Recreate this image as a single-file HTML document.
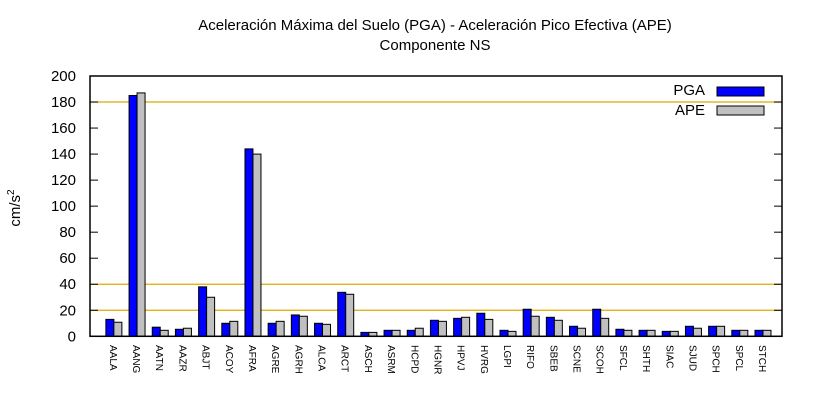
<!DOCTYPE html>
<html><head><meta charset="utf-8"><style>
body{margin:0;background:#fff;}
text{font-family:"Liberation Sans",sans-serif;fill:#000;}
</style></head><body>
<svg id="c" width="820" height="400" xmlns="http://www.w3.org/2000/svg">
<rect width="820" height="400" fill="#fff"/>
<text x="435" y="30" font-size="15" text-anchor="middle">Aceleración Máxima del Suelo (PGA) -  Aceleración Pico Efectiva (APE)</text>
<text x="435" y="50" font-size="15" text-anchor="middle">Componente NS</text>
<text transform="translate(20,208) rotate(-90)" font-size="15" text-anchor="middle">cm/s<tspan dy="-6" font-size="10">2</tspan></text>
<g id="grid"></g><g id="bars"></g><g id="xl"></g>
<rect x="90" y="76" width="692" height="260.3" fill="none" stroke="#000" stroke-width="1.5"/>
<g>
<text x="705" y="95" font-size="15" text-anchor="end">PGA</text>
<rect x="717" y="87" width="47" height="9" fill="#0000ff" stroke="#000"/>
<text x="705" y="115" font-size="15" text-anchor="end">APE</text>
<rect x="717" y="106" width="47" height="9" fill="#c0c0c0" stroke="#000"/>
</g>
</svg>
<script>
const categories=["AALA","AANG","AATN","AAZR","ABJT","ACOY","AFRA","AGRE","AGRH","ALCA","ARCT","ASCH","ASRM","HCPD","HGNR","HPVJ","HVRG","LGPI","RIFO","SBEB","SCNE","SCOH","SFCL","SHTH","SIAC","SJUD","SPCH","SPCL","STCH"];
const pga=[13,185,7,5.4,38,10,144,10,16.4,10,33.8,3,4.6,4.6,12.3,13.8,17.7,4.6,20.8,14.6,7.7,20.8,5.4,4.6,3.8,7.7,7.7,4.6,4.6];
const ape=[10.8,187,4.6,6.2,30,11.5,140,11.5,15.4,9.2,32.3,3,4.6,6.2,11.5,14.6,13,3.8,15.4,12.3,6.2,13.8,4.6,4.6,3.8,6.2,7.7,4.6,4.6];
const yTicks=[0,20,40,60,80,100,120,140,160,180,200];
const gridVals=[20,40,180];
const NS="http://www.w3.org/2000/svg";
const X0=90,X1=782,Y0=336.3,Y1=76;
const STEP=(X1-X0)/29.85;
const xs=i=>X0+(i+1.03)*STEP;
const ys=v=>Y0-v*(Y0-Y1)/200;
function mk(t,a,p){const e=document.createElementNS(NS,t);for(const k in a)e.setAttribute(k,a[k]);p.appendChild(e);return e;}
const g=document.getElementById('grid'),b=document.getElementById('bars'),xl=document.getElementById('xl');
gridVals.forEach(v=>{
 const l=mk('line',{x1:X0,x2:X1,y1:ys(v),y2:ys(v),stroke:'#e0a800','stroke-width':1.2},g);
 
 
});
yTicks.forEach(v=>{
 const t=mk('line',{x1:X0,x2:X0+8,y1:ys(v),y2:ys(v),stroke:'#000'},g);
 
 
 const t2=mk('line',{x1:X1-8,x2:X1,y1:ys(v),y2:ys(v),stroke:'#000'},g);
 
 
 const tx=mk('text',{x:76,y:ys(v)+5,'font-size':15,'text-anchor':'end'},g);tx.textContent=v;
 
 
});
categories.forEach((c,i)=>{
 const cx=xs(i);
 const r1=mk('rect',{x:cx-8,y:ys(pga[i]),width:8,height:Y0-ys(pga[i]),fill:'#0000ff',stroke:'#000','stroke-width':1},b);
 
 
 const r2=mk('rect',{x:cx,y:ys(ape[i]),width:8,height:Y0-ys(ape[i]),fill:'#c0c0c0',stroke:'#000','stroke-width':1},b);
 
 
 const t=mk('text',{transform:`translate(${cx-4},345) rotate(90)`,'font-size':10},xl);t.textContent=c;
 
 
});
</script>
</body></html>
